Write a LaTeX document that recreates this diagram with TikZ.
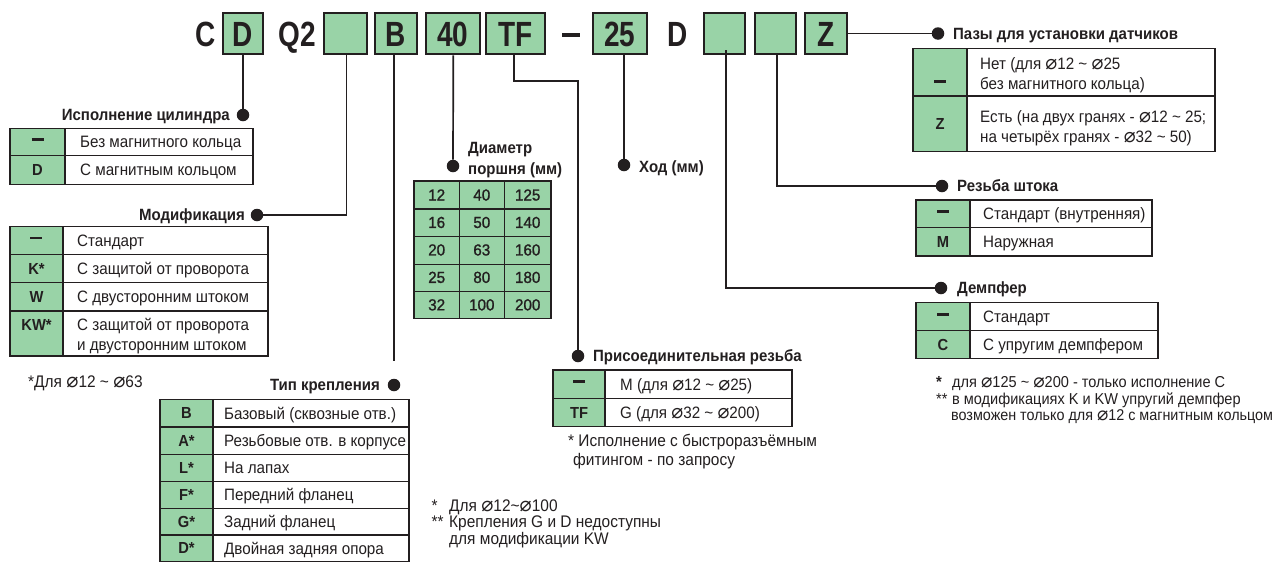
\documentclass[tikz,border=0pt]{standalone}
\usepackage{fontspec}
\setmainfont{Liberation Sans}[FakeStretch=0.92]
\newfontfamily\bigf{Liberation Sans}[FakeStretch=0.8]
\newfontfamily\numf{Liberation Sans}[FakeStretch=0.95,FakeBold=1.2]
\newfontfamily\djv{DejaVu Sans}[Scale=1.2]
\definecolor{cg}{RGB}{153,211,167}
\definecolor{ink}{RGB}{35,31,32}
\newcommand\dm{{\djv\char"2300}}
\newcommand\tld{\textasciitilde}
\newcommand\cdash{\rule[6.7pt]{12pt}{2.8pt}}
\tikzset{
 tline/.style={draw=ink,line width=1.3pt},
 conn/.style={draw=ink,line width=1.7pt},
 dotn/.style={circle,fill=ink,inner sep=0pt,minimum size=12.5pt},
 bigbox/.style={draw=ink,line width=2pt,fill=cg,minimum height=41.6pt,inner sep=0pt,
   font=\bigf\bfseries\fontsize{35}{40}\selectfont,text=ink,text height=25.3pt,text depth=0pt},
 bigtxt/.style={inner sep=0pt,font=\bigf\bfseries\fontsize{35}{40}\selectfont,text=ink,text height=25.3pt,text depth=0pt},
 ttl/.style={inner sep=0pt,text=ink,font=\fontsize{16.3}{19}\selectfont\bfseries},
 cell/.style={inner sep=0pt,text=ink,font=\fontsize{16.5}{20}\selectfont},
 code/.style={inner sep=0pt,text=ink,font=\fontsize{16}{18}\selectfont\bfseries},
 fn/.style={inner sep=0pt,text=ink,font=\fontsize{16.8}{19}\selectfont},
 fnr/.style={inner sep=0pt,text=ink,font=\fontsize{15.8}{18}\selectfont},
 num/.style={inner sep=0pt,text=ink,font=\numf\fontsize{16}{18}\selectfont},
}
% x1, xg, x2, ytop, ybot, xtext, code, text
\newcommand\trow[8]{%
 \pgfmathsetmacro\mx{(#1+#2)/2}%
 \pgfmathsetmacro\my{(#4+#5)/2}%
 \pgfmathsetmacro\cby{\my+5.6}%
 \pgfmathsetmacro\tby{\my+5.9}%
 \fill[cg] (#1,#4) rectangle (#2,#5);
 \draw[tline] (#1,#4) rectangle (#3,#5) (#2,#4) -- (#2,#5);
 \node[code,anchor=base] at (\mx,\cby) {#7};
 \node[cell,anchor=base west] at (#6,\tby) {#8};
}
\begin{document}
\begin{tikzpicture}[x=1pt,y=-1pt]
\useasboundingbox (0,0) rectangle (1275,563);
\fill[white] (0,0) rectangle (1275,563);

% ---------- code row ----------
\node[bigtxt] (tC) at (206,33.5) {C};
\node[bigbox,minimum width=40.6pt] (bD) at (243,33.5) {D};
\node[bigtxt] (tQ) at (297,33.5) {Q2};
\node[bigbox,minimum width=43pt] (bE1) at (345.5,33.5) {};
\node[bigbox,minimum width=42pt] (bB) at (396,33.5) {B};
\node[bigbox,minimum width=54.3pt] (b40) at (452.8,33.5) {40};
\node[bigbox,minimum width=59pt] (bTF) at (515.5,33.5) {TF};
\node[fill=ink,minimum width=18pt,minimum height=3.8pt,inner sep=0pt] (tDash) at (571,35.2) {};
\node[bigbox,minimum width=54pt] (b25) at (619.7,33.5) {25};
\node[bigtxt] (tD) at (678,33.5) {D};
\node[bigbox,minimum width=41pt] (bE2) at (724.5,33.5) {};
\node[bigbox,minimum width=41pt] (bE3) at (775.5,33.5) {};
\node[bigbox,minimum width=42pt] (bZ) at (826,33.5) {Z};

% ---------- dots ----------
\node[dotn] (d1) at (243,115) {};
\node[dotn] (d2) at (257,215) {};
\coordinate (bBend) at (394,361);
\node[dotn] (d3) at (394,385) {};
\node[dotn] (d4) at (453,166) {};
\node[dotn] (d5) at (624,165) {};
\node[dotn] (d6) at (578,356) {};
\node[dotn] (d7) at (941,288) {};
\node[dotn] (d8) at (942,186) {};
\node[dotn] (d9) at (938,33.5) {};

% ---------- connectors ----------
\draw[conn] (bD.south) -- (d1);
\draw[conn] ([xshift=1pt]bE1.south) |- (d2);
\draw[conn] ([xshift=-2pt]bB.south) -- (bBend);
\draw[conn] ([xshift=0.5pt]b40.south) -- (d4);
\draw[conn] ([xshift=-1.5pt]bTF.south) -- ++(0,26) -| (d6);
\draw[conn] ([xshift=4.3pt]b25.south) -- (d5);
\draw[conn] ([xshift=1.5pt,yshift=5pt]bE2.south) |- (d7);
\draw[conn] ([xshift=1.2pt]bE3.south) |- (d8);
\draw[conn] (bZ.east) -- (d9);

% ---------- T1 ----------
\node[ttl,anchor=base east] (t1) at (230,120.8) {Исполнение цилиндра};
\trow{10}{65}{253}{128.3}{155.7}{80}{\cdash}{Без магнитного кольца}
\trow{10}{65}{253}{155.7}{184.3}{80}{D}{С магнитным кольцом}

% ---------- T2 ----------
\node[ttl,anchor=base east] (t2) at (245,220.8) {Модификация};
\trow{10}{63}{268}{226.7}{254.3}{77}{\cdash}{Стандарт}
\trow{10}{63}{268}{254.3}{282.7}{77}{K*}{С защитой от проворота}
\trow{10}{63}{268}{282.7}{311}{77}{W}{С двусторонним штоком}
\trow{10}{63}{268}{311}{356}{77}{}{}
\node[code,anchor=base] at (36.5,330.6) {KW*};
\node[cell,anchor=base west] at (77,330.9) {С защитой от проворота};
\node[cell,anchor=base west] at (77,350.9) {и двусторонним штоком};
\node[fn,anchor=base west] (f2) at (28,387.5) {*Для \dm12 \tld{} \dm63};

% ---------- T3 ----------
\node[ttl,anchor=base east] (t3) at (380,390.8) {Тип крепления};
\trow{160}{213}{409}{399.3}{427}{224}{B}{Базовый (сквозные отв.)}
\trow{160}{213}{409}{427}{454.5}{224}{A*}{Резьбовые отв. в корпусе}
\trow{160}{213}{409}{454.5}{481.5}{224}{L*}{На лапах}
\trow{160}{213}{409}{481.5}{508.5}{224}{F*}{Передний фланец}
\trow{160}{213}{409}{508.5}{535}{224}{G*}{Задний фланец}
\trow{160}{213}{409}{535}{561.5}{224}{D*}{Двойная задняя опора}
\node[fn,anchor=base west] at (431.5,511) {*};
\node[fn,anchor=base west] at (449,511) {Для \dm12\tld\dm100};
\node[fn,anchor=base west] at (431.5,527.7) {**};
\node[fn,anchor=base west] at (449,527.7) {Крепления G и D недоступны};
\node[fn,anchor=base west] at (449,544.3) {для модификации KW};

% ---------- T4 grid ----------
\node[ttl,anchor=base west] (t4a) at (468,153.8) {Диаметр};
\node[ttl,anchor=base west] (t4b) at (468,174.1) {поршня (мм)};
\fill[cg] (414,181) rectangle (551,318.3);
\draw[tline] (414,181) rectangle (551,318.3);
\foreach \xx in {459.3,504.3} \draw[tline] (\xx,181) -- (\xx,318.3);
\foreach \yy in {209,236.7,264.3,291.7} \draw[tline] (414,\yy) -- (551,\yy);
\foreach \a/\b/\c [count=\i] in {12/40/125,16/50/140,20/63/160,25/80/180,32/100/200}{
  \pgfmathsetmacro\ry{181+(\i-0.5)*27.46+5.8}
  \node[num,anchor=base] at (436.7,\ry) {\a};
  \node[num,anchor=base] at (481.8,\ry) {\b};
  \node[num,anchor=base] at (527.7,\ry) {\c};
}

% ---------- T5 ----------
\node[ttl,anchor=base west] (t5) at (639,172.8) {Ход (мм)};

% ---------- T6 ----------
\node[ttl,anchor=base west] (t6) at (593,361.8) {Присоединительная резьба};
\trow{553}{605}{792}{370}{398.3}{620}{\cdash}{M (для \dm12 \tld{} \dm25)}
\trow{553}{605}{792}{398.3}{426.7}{620}{TF}{G (для \dm32 \tld{} \dm200)}
\node[fn,anchor=base west] at (568,446) {* Исполнение с быстроразъёмным};
\node[fn,anchor=base west] at (573,465.3) {фитингом - по запросу};

% ---------- T7 ----------
\node[ttl,anchor=base west] (t7) at (953,39.3) {Пазы для установки датчиков};
\trow{913}{967}{1215}{48.3}{96}{980}{}{}
\trow{913}{967}{1215}{96}{151.7}{980}{}{}
\node[code,anchor=base] at (940,89.5) {\cdash};
\node[cell,anchor=base west] at (980,69.2) {Нет (для \dm12 \tld{} \dm25};
\node[cell,anchor=base west] at (980,89.2) {без магнитного кольца)};
\node[code,anchor=base] at (940,129.6) {Z};
\node[cell,anchor=base west] at (980,122.6) {Есть (на двух гранях - \dm12 \tld{} 25;};
\node[cell,anchor=base west] at (980,142.6) {на четырёх гранях - \dm32 \tld{} 50)};

% ---------- T8 ----------
\node[ttl,anchor=base west] (t8) at (957,191.8) {Резьба штока};
\trow{916}{970}{1152}{200}{227.7}{983}{\cdash}{Стандарт (внутренняя)}
\trow{916}{970}{1152}{227.7}{256}{983}{M}{Наружная}

% ---------- T9 ----------
\node[ttl,anchor=base west] (t9) at (957,293.8) {Демпфер};
\trow{916}{970}{1158}{302.7}{330.7}{983}{\cdash}{Стандарт}
\trow{916}{970}{1158}{330.7}{358.3}{983}{C}{С упругим демпфером}
\node[fnr,anchor=base west,font=\fontsize{16}{18}\selectfont\bfseries] at (936,387.3) {*};
\node[fnr,anchor=base west] at (952,387.3) {для \dm125 \tld{} \dm200 - только исполнение С};
\node[fnr,anchor=base west] at (936,404.5) {**};
\node[fnr,anchor=base west] at (952,404.5) {в модификациях K и KW упругий демпфер};
\node[fnr,anchor=base west,font=\fontsize{15.6}{16}\selectfont] at (951,420.5) {возможен только для \dm12 с магнитным кольцом};
\end{tikzpicture}
\end{document}
